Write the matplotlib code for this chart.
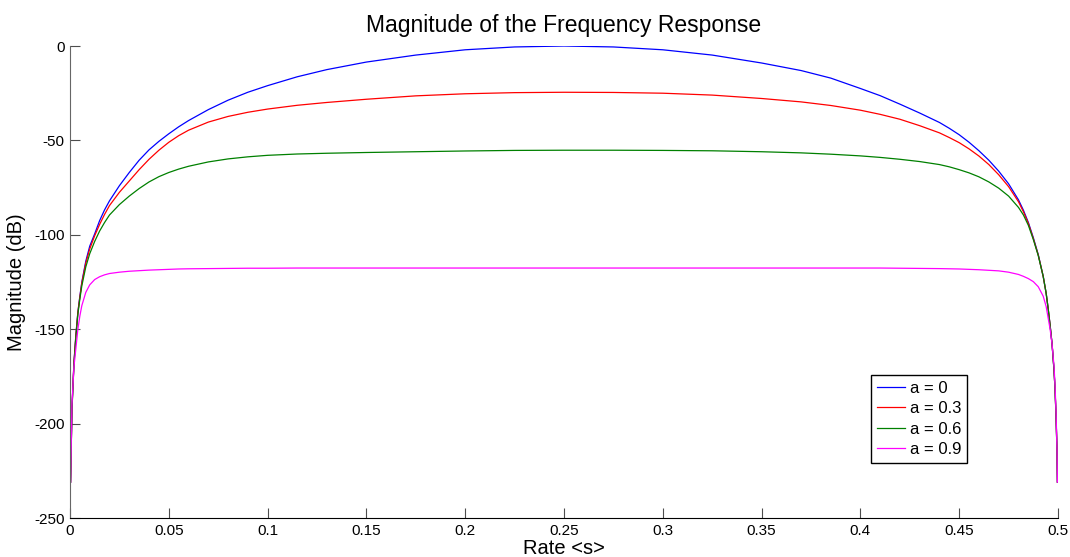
import numpy as np
import matplotlib.pyplot as plt

plt.rcParams["font.family"] = ["Liberation Sans", "DejaVu Sans"]
plt.rcParams["axes.unicode_minus"] = False

# normalised rate sample points
rate = [
    0.0003, 0.001, 0.002, 0.003, 0.004, 0.005, 0.006, 0.008, 0.01, 0.0125,
    0.015, 0.0175, 0.02, 0.025, 0.03, 0.035, 0.04, 0.045, 0.05, 0.055,
    0.06, 0.07, 0.08, 0.09, 0.1, 0.115, 0.13, 0.15, 0.175, 0.2,
    0.225, 0.25, 0.275, 0.3, 0.325, 0.35, 0.37, 0.385, 0.4, 0.41,
    0.42, 0.43, 0.44, 0.445, 0.45, 0.455, 0.46, 0.465, 0.47, 0.475,
    0.48, 0.4825, 0.485, 0.4875, 0.49, 0.4925, 0.494, 0.495, 0.496, 0.497,
    0.498, 0.4985, 0.499, 0.4995, 0.4997,
]

# magnitude (dB) for each value of a
mag_a0 = [
    -231, -192, -168, -153, -141, -132.5, -125, -114, -106, -99.5,
    -92.5, -86.8, -82, -74, -67, -60.5, -55, -50.5, -46.5, -42.8,
    -39.5, -33.7, -28.7, -24.5, -21, -16.3, -12.5, -8.5, -4.8, -2,
    -0.5, 0, -0.5, -2, -4.8, -9, -13, -17, -22.5, -26.3,
    -30.8, -35.5, -40.5, -43.6, -47, -51, -55.5, -60.5, -66.3, -73,
    -81.5, -87, -93.5, -101.5, -110.5, -122, -131, -139, -148, -158,
    -172, -182, -196, -215, -231,
]
mag_a3 = [
    -231, -192, -168, -153, -141, -133, -125.5, -115, -107.5, -100.5,
    -94.5, -89.2, -84.5, -77.5, -71.5, -65.5, -60, -55.2, -51, -47.5,
    -44.6, -40.3, -37.3, -35.1, -33.4, -31.4, -29.9, -28.2, -26.4, -25.3,
    -24.7, -24.5, -24.6, -25, -26, -27.8, -29.6, -31.5, -34, -36.2,
    -38.8, -42.2, -46, -48.5, -51.2, -54.5, -58.3, -62.8, -68.2, -74.5,
    -82.5, -87.8, -94, -102, -110.7, -122, -131, -139, -148, -158,
    -172, -182, -196, -215, -231,
]
mag_a6 = [
    -231, -193, -169, -154, -142, -134, -127, -117, -110, -103.5,
    -98, -93.5, -89.5, -84, -79.5, -75.5, -72, -69.2, -67, -65.2,
    -63.7, -61.4, -59.8, -58.7, -57.9, -57.2, -56.8, -56.4, -56, -55.6,
    -55.3, -55.2, -55.2, -55.3, -55.5, -56, -56.6, -57.3, -58.2, -59,
    -60, -61.2, -62.8, -64, -65.5, -67.2, -69.3, -72, -75.3, -79.5,
    -85.5, -89.5, -95, -102.5, -111, -122, -131, -139, -148, -158,
    -172, -182, -196, -215, -231,
]
mag_a9 = [
    -231, -190, -170, -160, -150, -143, -137.5, -130.5, -126.5, -123.7,
    -122.2, -121.2, -120.5, -119.8, -119.3, -119, -118.7, -118.5, -118.3, -118.1,
    -118, -117.9, -117.8, -117.7, -117.7, -117.6, -117.6, -117.6, -117.6, -117.6,
    -117.6, -117.6, -117.6, -117.6, -117.6, -117.6, -117.6, -117.6, -117.6, -117.6,
    -117.7, -117.8, -117.9, -118, -118.1, -118.3, -118.5, -118.8, -119.1, -119.8,
    -121, -122, -123.2, -124.8, -127.5, -132.5, -138, -144, -150, -158,
    -170, -180, -194, -214, -231,
]

labels = ["a = 0", "a = 0.3", "a = 0.6", "a = 0.9"]
colors = ["#0000ff", "#ff0000", "#008000", "#ff00ff"]

fig = plt.figure(figsize=(10.7, 5.57), dpi=100)
ax = fig.add_axes([0.0654, 0.0700, 0.9234, 0.8474])

for mag, lab, col in zip([mag_a0, mag_a3, mag_a6, mag_a9], labels, colors):
    ax.plot(rate, mag, color=col, lw=0.9, label=lab)

ax.set_xlim(0, 0.5)
ax.set_ylim(-250, 0)
ax.set_xticks(np.arange(0, 0.51, 0.05))
ax.set_xticklabels(["0", "0.05", "0.1", "0.15", "0.2", "0.25", "0.3",
                    "0.35", "0.4", "0.45", "0.5"])
ax.set_yticks(np.arange(-250, 1, 50))

for side in ["top", "right"]:
    ax.spines[side].set_visible(False)
ax.spines["left"].set_color("0.4")
ax.spines["bottom"].set_color("black")
ax.tick_params(direction="in", length=7.5, width=0.8, labelsize=11,
               colors="0.3", labelcolor="black", pad=4)

ax.set_title("Magnitude of the Frequency Response", fontsize=16.5, pad=10)
ax.set_xlabel("Rate <s>", fontsize=14.5, labelpad=1)
ax.set_ylabel("Magnitude (dB)", fontsize=14.5, labelpad=6)

leg = ax.legend(loc="upper left", bbox_to_anchor=(0.811, 0.303), fontsize=12,
                handlelength=1.7, handletextpad=0.25, labelspacing=0.33,
                borderpad=0.35, borderaxespad=0, fancybox=False, framealpha=1)
leg.get_frame().set_edgecolor("black")
leg.get_frame().set_linewidth(1.0)

fig.savefig("out.png", dpi=100)
